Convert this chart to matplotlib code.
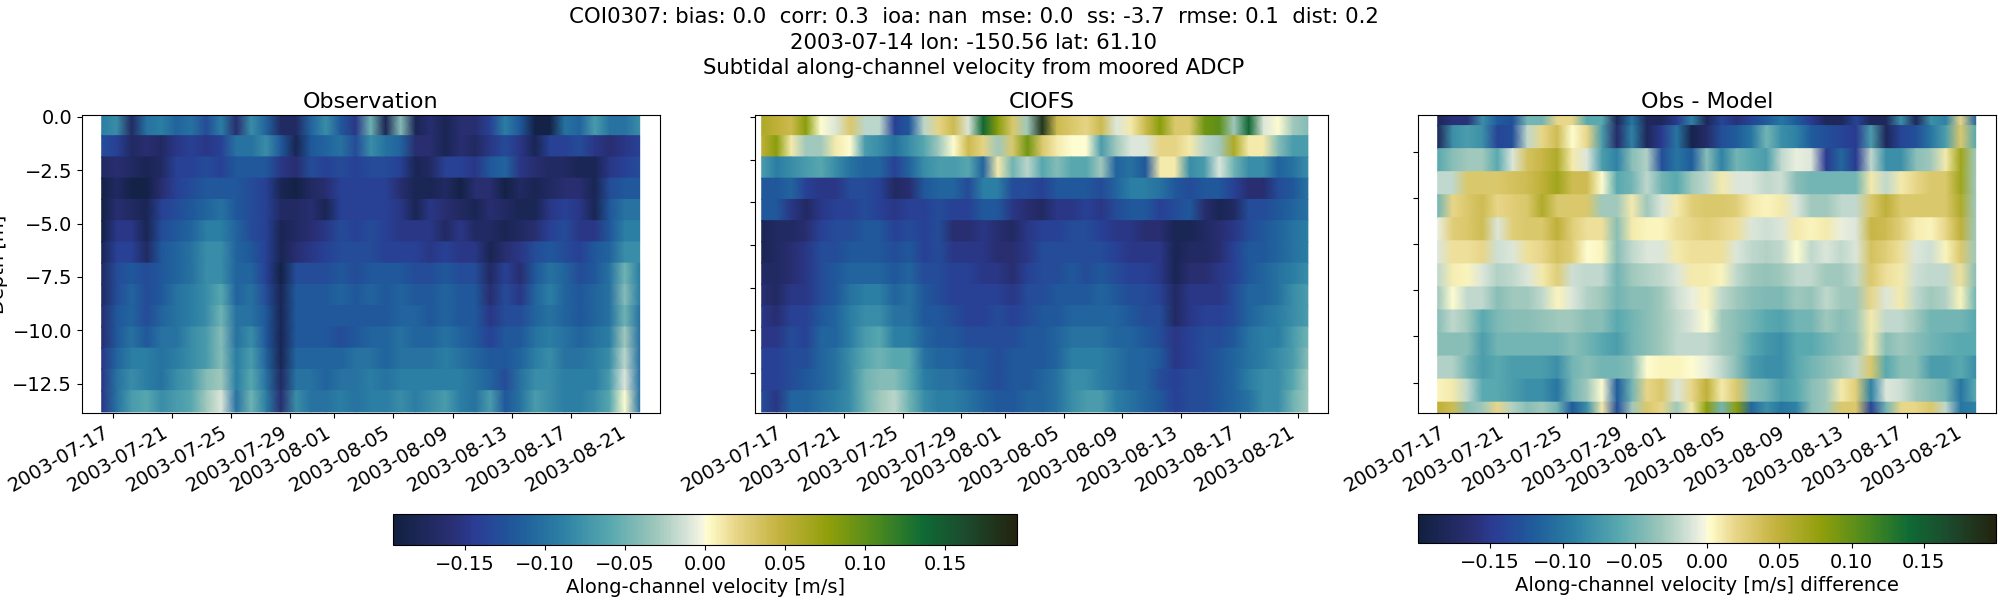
import numpy as np
import pandas as pd
import matplotlib
matplotlib.use('Agg')
import matplotlib.pyplot as plt
import matplotlib.dates as mdates
from matplotlib.colors import LinearSegmentedColormap

# velocities, cm/s, one list per depth bin (surface first)
obs_vel = [
    [-9,-8,-17,-10,-9,-11,-10,-13,-9,-16,-8,-11,-17,-17,-11,-8,-12,-15,-5,-18,-4,-18,-16,-18,-16,-16,-14,-9,-12,-19,-19,-10,-11,-7,-10,-10,-8],
    [-13,-14,-17,-16,-17,-15,-14,-15,-14,-10,-10,-8,-12,-18,-12,-11,-10,-13,-8,-10,-11,-16,-16,-18,-16,-17,-15,-13,-15,-18,-14,-14,-13,-15,-16,-15,-14],
    [-17,-16,-17,-18,-17,-14,-14,-13,-14,-12,-12,-12,-15,-16,-13,-14,-13,-14,-13,-13,-14,-18,-17,-14,-14,-15,-12,-11,-15,-16,-17,-17,-18,-18,-15,-14,-13],
    [-19,-17,-19,-19,-16,-14,-13,-12,-12,-12,-13,-14,-18,-19,-17,-16,-14,-14,-14,-14,-16,-18,-18,-17,-19,-16,-16,-19,-17,-18,-17,-16,-16,-18,-13,-12,-12],
    [-19,-16,-17,-18,-14,-13,-12,-11,-10,-12,-13,-14,-17,-17,-16,-18,-14,-14,-14,-14,-15,-18,-15,-16,-17,-18,-16,-17,-18,-18,-15,-14,-15,-18,-12,-10,-10],
    [-19,-15,-15,-18,-13,-12,-11,-9,-9,-11,-13,-14,-18,-17,-16,-15,-13,-14,-13,-14,-15,-15,-15,-17,-15,-17,-17,-18,-17,-16,-14,-13,-15,-15,-12,-9,-9],
    [-18,-14,-14,-17,-12,-11,-10,-8,-8,-11,-12,-14,-18,-16,-15,-14,-13,-13,-13,-14,-14,-14,-15,-14,-15,-15,-18,-16,-15,-13,-12,-13,-14,-12,-11,-8,-8],
    [-17,-13,-12,-13,-12,-11,-10,-8,-8,-11,-11,-14,-19,-13,-13,-13,-12,-13,-12,-12,-12,-13,-13,-12,-13,-13,-17,-14,-16,-12,-10,-11,-13,-12,-10,-5,-9],
    [-17,-13,-11,-13,-12,-10,-9,-8,-6,-11,-10,-13,-18,-12,-12,-12,-11,-12,-11,-12,-11,-12,-12,-11,-12,-12,-16,-13,-15,-11,-9,-11,-12,-11,-10,-4,-9],
    [-16,-12,-11,-13,-11,-10,-9,-8,-5,-10,-10,-12,-18,-12,-12,-12,-12,-12,-12,-12,-11,-11,-12,-11,-12,-12,-15,-13,-13,-11,-10,-11,-12,-11,-10,-5,-10],
    [-16,-12,-10,-12,-10,-10,-8,-7,-4,-10,-8,-12,-18,-12,-12,-12,-13,-12,-11,-11,-10,-11,-11,-10,-11,-12,-14,-12,-12,-10,-9,-10,-11,-10,-9,-3,-10],
    [-15,-11,-9,-9,-10,-9,-8,-7,-4,-9,-7,-11,-18,-11,-11,-11,-11,-10,-10,-11,-10,-10,-10,-9,-10,-11,-12,-12,-11,-9,-8,-10,-10,-9,-8,-2,-10],
    [-15,-10,-8,-9,-10,-8,-7,-4,-3,-9,-6,-10,-17,-10,-10,-11,-10,-10,-9,-10,-9,-9,-9,-9,-9,-10,-11,-13,-10,-8,-8,-9,-9,-9,-7,-1,-10],
    [-15,-10,-7,-6,-8,-7,-6,-3,-1,-10,-5,-9,-16,-8,-10,-10,-9,-10,-9,-9,-8,-9,-8,-7,-9,-10,-7,-12,-10,-7,-8,-9,-9,-8,-6,0,-10],
]

ciofs_vel = [
    [6,5,4,8,0,-1,3,-2,-2,-14,-12,-2,2,4,-1,14,8,3,-3,18,4,3,2,4,-1,1,4,8,3,3,9,10,-3,14,-1,0,-3,-4],
    [5,8,1,-3,-3,1,0,-7,-8,-10,-8,-6,-3,0,4,2,-3,3,9,3,1,0,0,-7,-3,-1,-1,2,2,1,-2,-3,6,1,1,-4,-7,-7],
    [-7,-9,-8,-7,-6,-8,-10,-11,-11,-14,-11,-8,-7,-7,-6,-11,1,-5,-2,-6,-4,-6,-6,-3,-11,-10,-12,1,1,-8,-7,-1,-5,-8,-8,-11,-10,-8],
    [-12,-12,-11,-14,-15,-15,-13,-13,-14,-17,-16,-12,-11,-11,-13,-9,-9,-13,-13,-14,-12,-12,-12,-13,-11,-9,-9,-10,-12,-13,-12,-12,-14,-16,-16,-13,-12,-10],
    [-12,-12,-15,-17,-15,-14,-14,-13,-14,-15,-14,-14,-13,-14,-14,-12,-12,-15,-16,-17,-15,-15,-14,-15,-13,-12,-12,-14,-13,-12,-16,-18,-17,-13,-13,-12,-11,-10],
    [-18,-17,-17,-16,-14,-13,-13,-12,-12,-14,-13,-14,-13,-16,-16,-15,-16,-17,-15,-14,-14,-13,-13,-14,-15,-15,-16,-16,-18,-18,-17,-16,-15,-13,-12,-11,-10,-9],
    [-18,-17,-16,-15,-13,-13,-12,-12,-12,-13,-12,-14,-13,-15,-15,-15,-16,-16,-15,-13,-13,-13,-13,-13,-14,-15,-15,-15,-18,-17,-17,-16,-14,-12,-12,-11,-10,-9],
    [-17,-17,-16,-15,-13,-12,-11,-11,-11,-12,-11,-13,-13,-14,-14,-15,-15,-16,-14,-13,-13,-12,-13,-12,-13,-14,-14,-15,-18,-16,-16,-15,-14,-12,-11,-10,-9,-8],
    [-16,-17,-15,-15,-13,-12,-10,-9,-9,-11,-10,-12,-13,-14,-14,-14,-14,-15,-13,-13,-12,-12,-12,-11,-12,-13,-13,-14,-17,-15,-15,-15,-13,-11,-11,-10,-8,-7],
    [-15,-16,-14,-14,-12,-11,-9,-8,-8,-10,-10,-12,-12,-13,-14,-14,-13,-14,-13,-12,-12,-11,-11,-11,-11,-12,-13,-13,-17,-15,-14,-14,-13,-11,-10,-9,-8,-7],
    [-15,-15,-13,-14,-11,-11,-9,-7,-6,-9,-9,-11,-12,-12,-13,-13,-13,-13,-12,-12,-11,-10,-10,-10,-11,-11,-12,-13,-15,-14,-13,-13,-12,-10,-9,-9,-7,-5],
    [-14,-14,-13,-13,-11,-10,-8,-6,-5,-6,-6,-10,-11,-11,-12,-12,-13,-12,-12,-12,-11,-9,-9,-9,-10,-11,-11,-12,-15,-14,-13,-12,-11,-10,-9,-8,-7,-4],
    [-14,-14,-13,-12,-11,-10,-8,-5,-4,-4,-6,-9,-10,-10,-11,-12,-13,-12,-12,-11,-10,-8,-8,-9,-10,-11,-11,-13,-14,-13,-13,-12,-11,-9,-8,-8,-6,-3],
    [-13,-15,-11,-11,-10,-9,-8,-5,-3,-2,-5,-8,-9,-9,-10,-11,-12,-12,-11,-11,-10,-8,-7,-7,-9,-10,-11,-12,-14,-13,-13,-12,-11,-10,-8,-8,-5,-3],
]

diff_vel = [
    [-18,-16,-16,-8,-12,-13,-5,-5,2,2,-6,-6,-18,-10,-18,-18,-15,-9,-18,-14,-16,-14,-12,-10,-12,-15,-18,-18,-14,-18,-18,-8,-18,-8,-9,2,-11],
    [-18,-8,-7,-8,-14,-13,-2,2,4,0,2,-7,-17,-9,-18,-15,-10,-19,-17,-13,-12,-10,-5,-8,-9,-12,-13,-14,-15,-7,-18,-14,-13,-10,-7,3,-6],
    [-6,-4,-3,-3,-6,-1,3.5,4.5,6,1,-1,-7,-9,-4,-2.5,-13,-10,-12,-4,-9,-5,-6,-7,-2,-0.5,-1,-15,-11,-15,-2,-8,-8,-4,-3,1,7,-3],
    [-2,-2,3,3,3,3.5,4,5,7,4,4,0,-6,-5,-2,-5,-6,-3,-2,1,-1,-1,-2,-1.5,-4,-5,-5,-5,-5,1,-2,1,2,3,3,7,-3],
    [-5,2,3,4,2,2.5,3,6,3,3,3,-3,-3,1,-3,-1,1,2.5,3,3,2.5,1,0.5,1,-1,-3,-3,-2,-2,3,5,3,3,3,3,6,-3],
    [-0.5,2.5,3,4,-1,2.5,3,3,5,2.5,1.5,1.5,-4,1,0.5,0.5,1.5,2,2.5,2,1.5,-1,-1.5,-1,1,0.5,1,-0.5,-1,4.5,4,2.5,0.8,0.5,2,5,-3],
    [-1,1.5,1.5,2,-1.5,-1,1.5,2,3.5,2.5,0,0.5,-4,-2,-1,-1,1,1.5,1.5,1.5,-1,-2,-2.5,-2,0,-2,-1,-2,-1,3.5,2.5,1.5,-1,-1.5,0.5,3,-3],
    [-2,0.8,0.5,-1,-2.5,-2,-1,1,2.5,-1.5,-2,-2,-5,-3,-2.5,-2,-1,1,1,0.5,-2,-3,-3.5,-3,-2,-2,-3,-3,-2,3,1.5,1,-1.5,-2,-2,1.5,-4],
    [-3,0,-2,-2,-4,-3,-3,-2,0.5,-1,-2.5,-3,-5,-4,-4,-3,-1.5,-0.5,0.5,-2,-3,-4,-4.5,-4.5,-3,-3.5,-2,-3,-3,2,-1,1,-2,-3,-2.5,0.5,-5],
    [-4,-2,-3,-6,-4.5,-4,-4,-3.5,-3,-3,-4,-4,-6,-5,-4,-3,-2,-1,0,-3,-4,-5,-6,-6.5,-5,-5,-3,-4,-3,1,-2,-2,-3,-5,-5,-5,-6],
    [-4,-4,-4,-7,-5,-5,-5,-5,-5,-4,-5,-6,-7,-5,-4,-3,-2,-2,-2,-3,-4,-6,-7.5,-8,-6,-6,-5,-4,-3.5,1,-4,-3,-4,-5,-5.5,-6,-6],
    [-2.5,-2.5,-5,-7,-6,-7,-7,-7,-8,-5,-4,-5,-5,-4,0,0.5,0.5,0,-0.5,-2,-4,-7,-8,-8,-6,-5,-4,-3,-2,3,-6,-4,-4,-7,-7,-6,-8],
    [0.5,1,-2,-6,-6,-7,-8,-8,-10,-5,-3,0,-12,-5,2,3,-1,2,5,1,3,-4,-5,-7,-6,-4,-3,1,2.5,-9,-1,-1.5,-3,-4,-5,-10,-6],
    [5,4,-4,-3,2,-2.5,-4,-3,-5,-12,-8,1,-13,-3,3,2,-3,1,8,-5,8,-11,-8,-10,-9,-4,-3,3,3,-14,-5,2,2,3,-2,-10,-9],
]

titles = ['Observation', 'CIOFS', 'Obs - Model']
suptitle = ('COI0307: bias: 0.0  corr: 0.3  ioa: nan  mse: 0.0  ss: -3.7  rmse: 0.1  dist: 0.2\n'
            '2003-07-14 lon: -150.56 lat: 61.10\n'
            'Subtidal along-channel velocity from moored ADCP')
cbar_ticks = [-0.15, -0.10, -0.05, 0, 0.05, 0.10, 0.15]

# rough copy of the cmocean delta map (cmocean is not installed)
delta = LinearSegmentedColormap.from_list('delta', [
    (0.00, '#112040'), (0.09, '#292f72'), (0.13, '#2a3c94'), (0.20, '#1f5c9c'),
    (0.27, '#2c80a4'), (0.35, '#5aaab0'), (0.42, '#9cc6ba'), (0.47, '#d6e3d8'),
    (0.497, '#f8f7e2'), (0.503, '#fffdcd'), (0.55, '#e8d588'), (0.62, '#c4b23e'),
    (0.70, '#8f9f0a'), (0.78, '#48881f'), (0.85, '#0f6b35'), (0.92, '#1c4a2d'),
    (1.00, '#23230f')])


def px_axes(fig, x0, y0, x1, y1):
    # pixel box, measured from the top left corner of the picture
    return fig.add_axes([x0 / 2000, 1 - y1 / 600, (x1 - x0) / 2000, (y1 - y0) / 600])


def draw_panel(ax, vel, t0, t1, top, step, first_h, vmax):
    vel = np.array(vel) / 100
    times = pd.date_range(t0, t1, periods=vel.shape[1])
    # each bin is flat in depth and smooth in time, so every row goes in twice
    edges = [top, top - first_h]
    for i in range(vel.shape[0] - 1):
        edges.append(edges[-1] - step)
    rows_y = []
    for i in range(vel.shape[0]):
        rows_y += [edges[i], edges[i + 1]]
    return ax.pcolormesh(times, rows_y, np.repeat(vel, 2, axis=0), shading='gouraud',
                         cmap=delta, vmin=-vmax, vmax=vmax)


fig = plt.figure(figsize=(20, 6), dpi=100)

ax1 = px_axes(fig, 82, 115, 660, 413)
ax2 = px_axes(fig, 755, 115, 1328, 413)
ax3 = px_axes(fig, 1418, 115, 1996, 413)

m1 = draw_panel(ax1, obs_vel, '2003-07-16 06:00', '2003-08-21 16:00', 0.09, 0.996, 0.97, 0.195)
m2 = draw_panel(ax2, ciofs_vel, '2003-07-15 09:00', '2003-08-21 16:00', 0.09, 0.996, 0.97, 0.195)
m3 = draw_panel(ax3, diff_vel, '2003-07-16 06:00', '2003-08-21 16:00', -0.39, 1.0, 0.46, 0.2)

for ax, title in zip([ax1, ax2, ax3], titles):
    ax.set_title(title, fontsize=16, pad=5)
    ax.set_xlim(mdates.date2num(pd.Timestamp('2003-07-14 22:00')),
                mdates.date2num(pd.Timestamp('2003-08-23 01:00')))
    ax.xaxis.set_major_locator(mdates.DayLocator(bymonthday=range(1, 32, 4)))
    ax.xaxis.set_major_formatter(mdates.DateFormatter('%Y-%m-%d'))
    ax.tick_params(labelsize=14)
    for lab in ax.get_xticklabels():
        lab.set_rotation(30)
        lab.set_ha('right')

ax1.set_ylim(-13.88, 0.09)
ax1.set_yticks([0, -2.5, -5, -7.5, -10, -12.5])
ax1.set_ylabel('Depth [m]', fontsize=14, labelpad=3)

ax2.set_ylim(-13.88, 0.09)
ax2.set_yticks([0, -2, -4, -6, -8, -10, -12])
ax2.tick_params(labelleft=False)

ax3.set_ylim(-13.32, -0.39)
ax3.set_yticks([-2, -4, -6, -8, -10, -12])
ax3.tick_params(labelleft=False)

cax1 = px_axes(fig, 393, 514, 1017, 545)
cb1 = fig.colorbar(m1, cax=cax1, orientation='horizontal')
cb1.set_ticks(cbar_ticks)
cb1.set_label('Along-channel velocity [m/s]', fontsize=14, labelpad=3)
cb1.ax.tick_params(labelsize=14)

cax2 = px_axes(fig, 1418, 514, 1996, 543)
cb2 = fig.colorbar(m3, cax=cax2, orientation='horizontal')
cb2.set_ticks(cbar_ticks)
cb2.set_label('Along-channel velocity [m/s] difference', fontsize=14, labelpad=3)
cb2.ax.tick_params(labelsize=14)

fig.text(0.487, 0.988, suptitle, fontsize=15.3, ha='center', va='top', linespacing=1.35)

fig.savefig('out.png', dpi=100)
